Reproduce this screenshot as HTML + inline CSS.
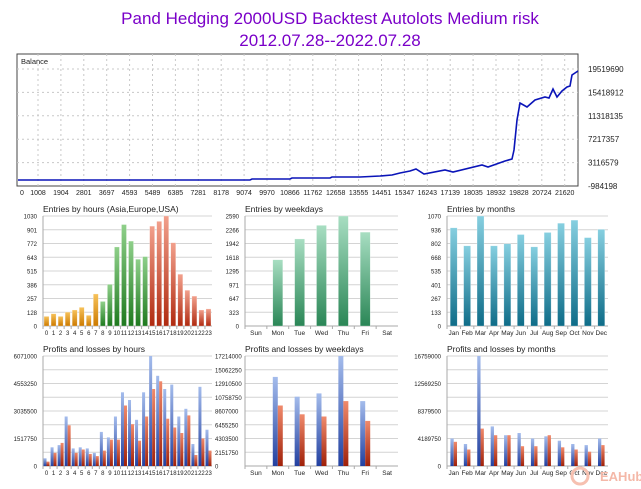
<!DOCTYPE html>
<html><head><meta charset="utf-8"><style>
body{margin:0;background:#fff;width:641px;height:489px;overflow:hidden}
svg{display:block;font-family:"Liberation Sans",sans-serif}
</style></head><body>
<svg id="s" width="641" height="489" viewBox="0 0 641 489">
<defs>
<linearGradient id="gO" x1="0" y1="0" x2="0" y2="1"><stop offset="0" stop-color="#f7c25a"/><stop offset="1" stop-color="#cc7a00"/></linearGradient>
<linearGradient id="gG" x1="0" y1="0" x2="0" y2="1"><stop offset="0" stop-color="#8fd08a"/><stop offset="1" stop-color="#1f7a1f"/></linearGradient>
<linearGradient id="gR" x1="0" y1="0" x2="0" y2="1"><stop offset="0" stop-color="#f2a08c"/><stop offset="1" stop-color="#b02a10"/></linearGradient>
<linearGradient id="gW" x1="0" y1="0" x2="0" y2="1"><stop offset="0" stop-color="#a8dec2"/><stop offset="1" stop-color="#2a8656"/></linearGradient>
<linearGradient id="gT" x1="0" y1="0" x2="0" y2="1"><stop offset="0" stop-color="#86cfe0"/><stop offset="1" stop-color="#0e6c88"/></linearGradient>
<linearGradient id="gB" x1="0" y1="0" x2="0" y2="1"><stop offset="0" stop-color="#a4bcec"/><stop offset="1" stop-color="#2240a0"/></linearGradient>
<linearGradient id="gL" x1="0" y1="0" x2="0" y2="1"><stop offset="0" stop-color="#f08a6c"/><stop offset="1" stop-color="#a02008"/></linearGradient>
</defs>
<text x="330" y="24" font-size="17" fill="#7a00c8" text-anchor="middle">Pand Hedging 2000USD Backtest Autolots Medium risk</text>
<text x="330" y="46" font-size="17" fill="#7a00c8" text-anchor="middle">2012.07.28--2022.07.28</text>
<g id="bal"></g>
<g id="panels"></g>
<text x="600" y="481" font-size="13" fill="#f4b8a8" font-weight="bold">EAHub</text>
<circle cx="580" cy="476" r="8" fill="none" stroke="#f6c0b0" stroke-width="3"/>
</svg>
<script>
var NS="http://www.w3.org/2000/svg";
function el(p,t,a,txt){var e=document.createElementNS(NS,t);for(var k in a)e.setAttribute(k,a[k]);if(txt!==undefined)e.textContent=txt;p.appendChild(e);return e;}
var bal=document.getElementById('bal');
var L=17,T=54,R=578,B=186;
el(bal,'rect',{x:L,y:T,width:R-L,height:B-T,fill:'#fff',stroke:'#444','stroke-width':1});
var xl=["0","1008","1904","2801","3697","4593","5489","6385","7281","8178","9074","9970","10866","11762","12658","13555","14451","15347","16243","17139","18035","18932","19828","20724","21620"];
for(var i=0;i<xl.length;i++){var x=i==0?22:38+22.9*(i-1);
 if(i>0)el(bal,'line',{x1:x,y1:T,x2:x,y2:B,stroke:'#c8c8c8','stroke-dasharray':'2,3'});
 el(bal,'text',{x:x,y:195,'font-size':7,'text-anchor':'middle',fill:'#222'},xl[i]);}
var yl=["19519690","15418912","11318135","7217357","3116579","-984198"];
for(var j=0;j<6;j++){var y=69+j*23.4;
 if(j<5)el(bal,'line',{x1:L,y1:y,x2:R,y2:y,stroke:'#c8c8c8','stroke-dasharray':'2,3'});
 el(bal,'text',{x:588,y:y+3,'font-size':8,fill:'#222'},yl[j]);}
el(bal,'text',{x:21,y:64,'font-size':7.5,fill:'#222'},"Balance");
el(bal,'polyline',{points:"18,180 250,180 252,179 290,179 292,178 330,178 332,177 360,177 380,176 392,175 400,173 410,171 416,169 424,174 445,170 453,172 482,165 488,167 505,161 512,159 514,150 517,120 520,103 527,107 535,100 545,97 549,98 553,89 557,97 562,91 567,87 570,86 572,75 575,73 578,71",fill:'none',stroke:'#0a14b8','stroke-width':1.6});

var P=document.getElementById('panels');
function panel(o){
 var g=el(P,'g',{});
 el(g,'text',{x:o.x0,y:o.ty,'font-size':8.5,fill:'#222'},o.title);
 var n=o.yl.length, h=o.y1-o.y0;
 for(var i=0;i<9;i++){var y=o.y0+h*i/8;el(g,'line',{x1:o.x0,y1:y,x2:o.x1,y2:y,stroke:'#d4d4d4','stroke-width':1});}
 for(var i=0;i<n;i++){var y=o.y0+h*i/(n-1);el(g,'text',{x:o.x0-6,y:y+2.5,'font-size':6,'text-anchor':'end',fill:'#222'},o.yl[i]);}
 if(o.yr)for(var i=0;i<o.yr.length;i++){var y=o.y0+h*i/(o.yr.length-1);el(g,'text',{x:o.x1+3,y:y+2.5,'font-size':6,fill:'#222'},o.yr[i]);}
 el(g,'line',{x1:o.x0,y1:o.y0,x2:o.x0,y2:o.y1,stroke:'#aaa'});
 el(g,'line',{x1:o.x0,y1:o.y1,x2:o.x1,y2:o.y1,stroke:'#aaa'});
 var c=o.cats.length, sp=(o.x1-o.x0)/c;
 for(var i=0;i<c;i++){var cx=o.x0+sp*(i+0.5);
  el(g,'text',{x:cx,y:o.y1+9,'font-size':c>20?6:6.5,'text-anchor':'middle',fill:'#222'},o.cats[i]);
  el(g,'line',{x1:o.x0+sp*i,y1:o.y1,x2:o.x0+sp*i,y2:o.y1+3,stroke:'#aaa'});
  if(o.v){var v=o.v[i];if(v>0){var bh=h*v;el(g,'rect',{x:cx-o.bw/2,y:o.y1-bh,width:o.bw,height:bh,fill:'url(#'+o.col(i)+')',stroke:'rgba(255,255,255,0.5)','stroke-width':0.5});}}
  if(o.b){var bw=o.bw;var bh=h*o.b[i],rh=h*o.r[i];
   if(bh>0)el(g,'rect',{x:cx-bw,y:o.y1-bh,width:bw,height:bh,fill:'url(#gB)'});
   if(rh>0)el(g,'rect',{x:cx,y:o.y1-rh,width:bw,height:rh,fill:'url(#gL)'});}
 }
}
var hrs=[];for(var i=0;i<24;i++)hrs.push(""+i);
var hv=[90,115,90,130,150,175,100,300,230,390,740,950,795,625,650,935,980,1030,780,485,335,280,150,160].map(function(v){return v/1030});
panel({title:"Entries by hours (Asia,Europe,USA)",x0:43,x1:212,y0:216,y1:326,ty:212,yl:["1030","901","772","643","515","386","257","128","0"],cats:hrs,v:hv,bw:5,col:function(i){return i<8?'gO':(i<15?'gG':'gR')}});
panel({title:"Entries by weekdays",x0:245,x1:398,y0:216,y1:326,ty:212,yl:["2590","2266","1942","1618","1295","971","647","323","0"],cats:["Sun","Mon","Tue","Wed","Thu","Fri","Sat"],v:[0,1560,2050,2370,2590,2210,0].map(function(v){return v/2590}),bw:10,col:function(){return 'gW'}});
var mo=["Jan","Feb","Mar","Apr","May","Jun","Jul","Aug","Sep","Oct","Nov","Dec"];
panel({title:"Entries by months",x0:447,x1:608,y0:216,y1:326,ty:212,yl:["1070","936","802","668","535","401","267","133","0"],cats:mo,v:[955,780,1070,780,800,890,770,910,1000,1030,860,940].map(function(v){return v/1070}),bw:7,col:function(){return 'gT'}});
panel({title:"Profits and losses by hours",x0:43,x1:212,y0:356,y1:466,ty:352,yl:["6071000","","4553250","","3035500","","1517750","","0"],yr:["17214000","15062250","12910500","10758750","8607000","6455250","4303500","2151750","0"],cats:hrs,
 b:[.07,.17,.19,.45,.16,.17,.16,.12,.31,.26,.45,.67,.60,.42,.67,1,.82,.70,.74,.45,.52,.20,.72,.33],
 r:[.04,.12,.21,.37,.12,.15,.11,.09,.14,.24,.24,.55,.38,.23,.45,.70,.77,.43,.35,.30,.46,.10,.25,.14],bw:3});
panel({title:"Profits and losses by weekdays",x0:245,x1:398,y0:356,y1:466,ty:352,yl:[],cats:["Sun","Mon","Tue","Wed","Thu","Fri","Sat"],
 b:[0,.81,.63,.66,1,.59,0],r:[0,.55,.47,.45,.59,.41,0],bw:5});
panel({title:"Profits and losses by months",x0:447,x1:608,y0:356,y1:466,ty:352,yl:["16759000","","12569250","","8379500","","4189750","","0"],cats:mo,
 b:[.25,.20,1,.36,.28,.30,.25,.27,.23,.20,.19,.25],r:[.22,.15,.34,.28,.28,.18,.18,.28,.17,.15,.13,.19],bw:3.3});
</script>
</body></html>
